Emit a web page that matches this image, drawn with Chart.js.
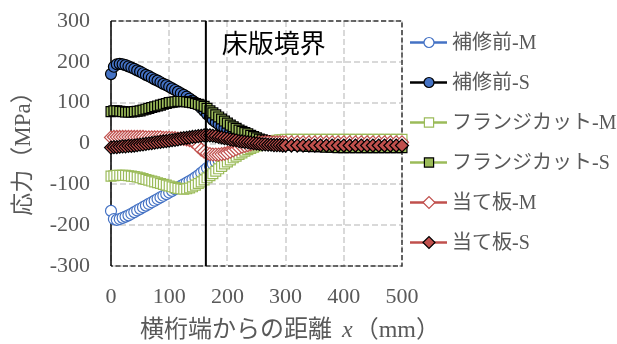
<!DOCTYPE html>
<html><head><meta charset="utf-8">
<script src="https://cdn.jsdelivr.net/npm/chart.js@4.4.1/dist/chart.umd.min.js"></script>
<style>html,body{margin:0;padding:0;background:#fff;overflow:hidden}#wrap{width:617px;height:344px;position:relative}</style>
</head><body><div id="wrap"><canvas id="c" width="617" height="344"></canvas></div>
<script>
// ---- data (mm, MPa) ----
const xPositions = [0,5,10,15,20,25,30,35,40,45,50,55,60,65,70,75,80,85,90,95,100,105,110,115,120,125,130,135,140,145,150,155,160,165,170,175,180,185,190,195,200,205,210,215,220,225,230,235,240,245,250,255,260,265,270,275,280,285,290,295,300,310,320,330,340,350,360,370,380,390,400,410,420,430,440,450,460,470,480,490,500];
const seriesNames = ['補修前-M','補修前-S','フランジカット-M','フランジカット-S','当て板-M','当て板-S'];
const beforeRepairM = [-165,-185,-187,-185,-182,-179,-176,-172,-168,-164,-160,-156,-152,-148,-144,-140,-136,-132,-128,-124,-120,-116,-112,-108,-104,-100,-96,-92,-88,-83,-78,-72,-66,-60,-55,-50,-45,-41,-37,-33,-29,-26,-23,-20,-17,-14,-12,-10,-8,-6,-4,-2,-1,0,1,2,2,3,3,3,3,3,3,4,4,4,4,4,4,4,4,4,4,4,4,4,4,4,4,4,4];
const beforeRepairS = [170,188,194,195,194,192,189,186,183,179,176,172,168,165,161,157,154,150,146,143,139,135,131,127,123,119,115,110,105,100,94,87,80,72,65,58,52,47,42,38,34,30,27,24,21,18,15,13,11,9,7,5,4,3,2,1,0,-1,-2,-3,-3,-4,-4,-4,-5,-5,-5,-5,-5,-5,-5,-5,-5,-5,-5,-5,-5,-5,-5,-5,-5];
const flangeCutM = [-80,-79,-78,-78,-78,-78,-79,-80,-81,-82,-84,-86,-88,-90,-92,-94,-96,-98,-100,-102,-104,-106,-108,-110,-111,-112,-111,-109,-106,-102,-98,-94,-89,-84,-79,-74,-68,-62,-56,-50,-45,-40,-35,-31,-27,-23,-19,-15,-12,-9,-6,-3,0,2,4,6,7,8,9,9,10,10,10,10,10,10,10,10,10,10,10,10,10,10,10,10,10,10,10,10,10];
const flangeCutS = [78,80,80,79,78,77,77,77,78,79,80,82,84,86,88,90,92,94,96,98,100,101,102,103,103,103,102,101,100,98,96,94,91,86,80,75,70,65,60,55,50,45,41,37,33,30,27,24,20,17,14,11,9,7,5,3,1,0,-1,-2,-3,-4,-5,-6,-7,-8,-8,-9,-9,-10,-10,-10,-10,-10,-10,-10,-10,-10,-10,-10,-10];
const platedM = [15,16,16,16,16,16,16,16,16,16,16,16,15,15,15,15,15,15,14,14,14,13,13,12,12,11,10,8,5,0,-8,-15,-20,-24,-26,-27,-27,-27,-26,-25,-23,-20,-17,-14,-11,-8,-6,-4,-2,0,1,2,2,3,3,3,3,3,3,3,3,3,3,3,3,3,3,3,3,3,3,3,3,3,3,3,3,3,3,3,3];
const platedS = [-10,-9,-9,-8,-7,-7,-6,-6,-5,-4,-3,-2,-1,0,1,2,3,4,5,6,7,8,9,10,12,13,14,15,16,17,18,19,20,20,20,19,18,16,15,13,12,10,9,8,6,5,4,3,2,1,0,-1,-2,-2,-3,-3,-4,-4,-4,-5,-5,-5,-5,-5,-5,-5,-5,-5,-5,-5,-5,-5,-5,-5,-5,-5,-5,-5,-5,-5,-5];
const xTickValues = [0,100,200,300,400,500];
const yTickValues = [-300,-200,-100,0,100,200,300];
const boundaryX = 163;
const boundaryLabel = '床版境界';
const yTitle = '応力（MPa）';
const xTitleParts = ['横桁端からの距離', 'x', '（mm）'];

// ---- styles ----
const BLUE = '#4472C4', GREEN = '#9BBB59', RED = '#C0504D';
const styles = [
  {line: BLUE,   fill: '#FFFFFF', edge: BLUE,   shape: 'circle',  r: 5.5},
  {line: '#000', fill: BLUE,      edge: '#000', shape: 'circle',  r: 5.5},
  {line: GREEN,  fill: '#FFFFFF', edge: GREEN,  shape: 'rect',    r: 7},
  {line: GREEN,  fill: GREEN,     edge: '#000', shape: 'rect',    r: 7},
  {line: RED,    fill: '#FFFFFF', edge: RED,    shape: 'rectRot', r: 6.5},
  {line: RED,    fill: RED,       edge: '#000', shape: 'rectRot', r: 6.5}
];
const legendRadius = [5, 5, 6.5, 6.5, 6, 6];
const seriesValues = [beforeRepairM, beforeRepairS, flangeCutM, flangeCutS, platedM, platedS];
const datasets = seriesValues.map((vals, i) => ({
  label: seriesNames[i],
  data: vals.map((v, k) => ({x: xPositions[k], y: v})),
  borderColor: styles[i].line,
  borderWidth: 2.5,
  pointStyle: styles[i].shape,
  pointRadius: styles[i].r,
  pointBackgroundColor: styles[i].fill,
  pointBorderColor: styles[i].edge,
  pointBorderWidth: 1.2,
  tension: 0,
  clip: false,
  order: seriesValues.length - 1 - i
}));

const SERIF_CJK = "'Liberation Serif','Noto Sans CJK JP',serif";
const TEXT_GRAY = '#595959';

const decor = {
  id: 'decor',
  beforeDatasetsDraw(chart) {
    const {ctx, chartArea: a} = chart;
    ctx.save();
    ctx.strokeStyle = '#3a3a3a';
    ctx.lineWidth = 1.5;
    ctx.setLineDash([5, 2.5]);
    ctx.beginPath();
    ctx.moveTo(a.left, a.top); ctx.lineTo(a.right, a.top); ctx.lineTo(a.right, a.bottom); ctx.lineTo(a.left, a.bottom);
    ctx.stroke();
    ctx.setLineDash([]);
    ctx.strokeStyle = '#000';
    ctx.beginPath(); ctx.moveTo(a.left, a.top); ctx.lineTo(a.left, a.bottom); ctx.stroke();
    ctx.restore();
  },
  afterDatasetsDraw(chart) {
    const {ctx, chartArea: a, scales} = chart;
    const bx = scales.x.getPixelForValue(boundaryX);
    ctx.save();
    ctx.strokeStyle = '#000'; ctx.lineWidth = 2;
    ctx.beginPath(); ctx.moveTo(bx, a.top); ctx.lineTo(bx, a.bottom); ctx.stroke();
    ctx.fillStyle = '#000';
    ctx.font = "26px 'Noto Sans CJK JP'";
    ctx.textBaseline = 'middle'; ctx.textAlign = 'left';
    ctx.fillText(boundaryLabel, bx + 16, 43);
    ctx.restore();
  },
  afterDraw(chart) {
    const ctx = chart.ctx;
    ctx.save();
    // legend
    chart.data.datasets.forEach((ds, i) => {
      const y = 42.5 + 40 * i;
      ctx.strokeStyle = ds.borderColor; ctx.lineWidth = 2.5; ctx.setLineDash([]);
      ctx.beginPath(); ctx.moveTo(410, y); ctx.lineTo(447, y); ctx.stroke();
      ctx.fillStyle = ds.pointBackgroundColor; ctx.strokeStyle = ds.pointBorderColor; ctx.lineWidth = ds.pointBorderWidth;
      Chart.helpers.drawPoint(ctx, {pointStyle: ds.pointStyle, radius: legendRadius[i], borderWidth: ds.pointBorderWidth, rotation: 0}, 429, y);
      ctx.fillStyle = TEXT_GRAY; ctx.font = "20px " + SERIF_CJK;
      ctx.textBaseline = 'middle'; ctx.textAlign = 'left';
      ctx.fillText(ds.label, 452, y + 1);
    });
    // x title
    ctx.fillStyle = TEXT_GRAY; ctx.textBaseline = 'middle'; ctx.textAlign = 'left';
    let x = 140; const ty = 331;
    ctx.font = "24px " + SERIF_CJK; ctx.fillText(xTitleParts[0], x, ty); x += ctx.measureText(xTitleParts[0]).width + 10;
    ctx.font = "italic 24px 'Liberation Serif',serif"; ctx.fillText(xTitleParts[1], x, ty); x += ctx.measureText(xTitleParts[1]).width + 2;
    ctx.font = "24px " + SERIF_CJK; ctx.fillText(xTitleParts[2], x, ty);
    // y title
    ctx.translate(24, 148); ctx.rotate(-Math.PI / 2);
    ctx.textAlign = 'center'; ctx.font = "23px " + SERIF_CJK;
    ctx.fillText(yTitle, 0, 0);
    ctx.restore();
  }
};

new Chart(document.getElementById('c'), {
  type: 'line',
  data: {datasets},
  plugins: [decor],
  options: {
    responsive: false,
    animation: false,
    devicePixelRatio: 1,
    layout: {padding: {left: 0, top: 21, right: 215, bottom: 0}},
    plugins: {legend: {display: false}, tooltip: {enabled: false}},
    scales: {
      x: {
        type: 'linear', min: 0, max: 500,
        afterBuildTicks: s => { s.ticks = xTickValues.map(v => ({value: v})); },
        afterFit: s => { s.height = 78; s.paddingLeft = 0; s.paddingRight = 0; },
        grid: {color: '#D9D9D9', lineWidth: 2, drawTicks: false},
        border: {display: false, dash: [6, 3]},
        ticks: {padding: 18, color: TEXT_GRAY, font: {family: "'Liberation Serif',serif", size: 22}, maxRotation: 0}
      },
      y: {
        type: 'linear', min: -300, max: 300,
        afterBuildTicks: s => { s.ticks = yTickValues.map(v => ({value: v})); },
        afterFit: s => { s.width = 111; s.paddingTop = 0; s.paddingBottom = 0; },
        grid: {color: '#D9D9D9', lineWidth: 2, drawTicks: false},
        border: {display: false, dash: [6, 3]},
        ticks: {padding: 21, color: TEXT_GRAY, font: {family: "'Liberation Serif',serif", size: 22}}
      }
    }
  }
});
</script>
</body></html>
